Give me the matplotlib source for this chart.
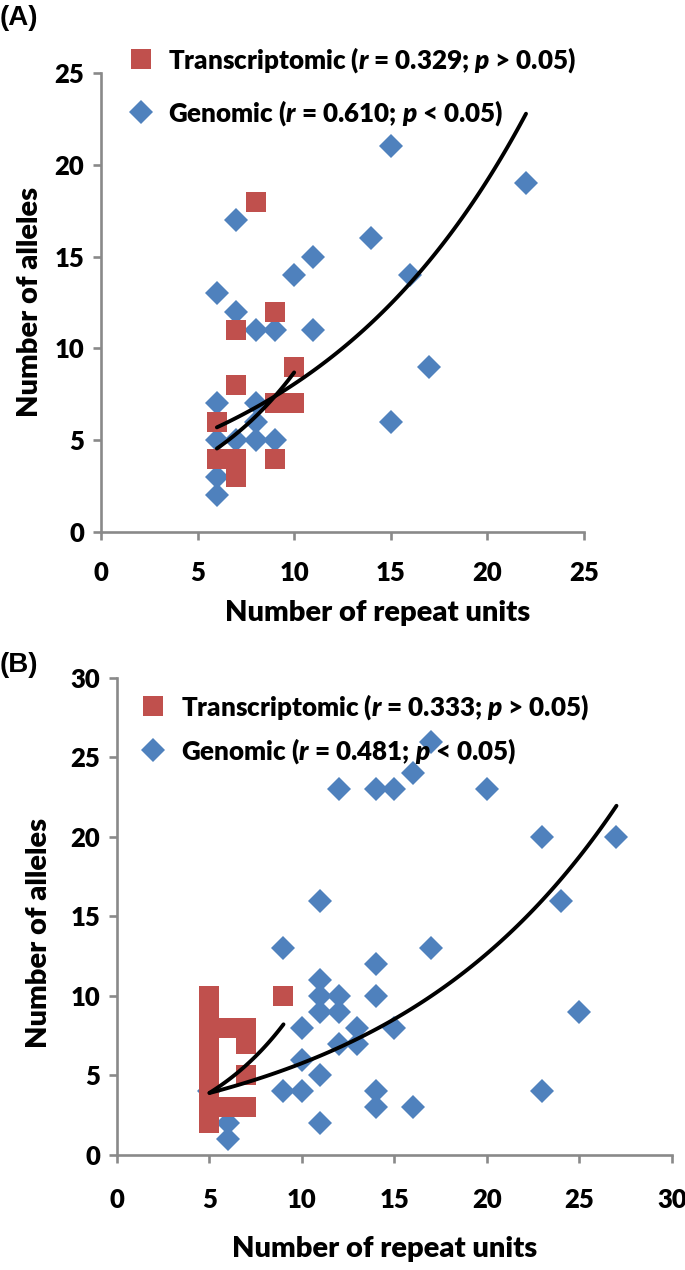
import numpy as np
import matplotlib.pyplot as plt
from matplotlib.lines import Line2D
from matplotlib import font_manager


def has_bold(name):
    for f in font_manager.fontManager.ttflist:
        w = f.weight if isinstance(f.weight, int) else font_manager.weight_dict.get(f.weight, 400)
        if f.name == name and w >= 600:
            return True
    return False


font = next(n for n in ['Lato', 'Open Sans', 'Roboto', 'Noto Sans', 'Liberation Sans', 'DejaVu Sans']
            if has_bold(n))

plt.rcParams['font.family'] = [font, 'DejaVu Sans']
plt.rcParams['font.weight'] = 'heavy'
plt.rcParams['mathtext.fontset'] = 'custom'
plt.rcParams['mathtext.it'] = font + ':italic:heavy'
plt.rcParams['mathtext.rm'] = font + ':heavy'

# panel A
a_trans_x = [8, 9, 7, 10, 7, 9, 10, 6, 6, 7, 7, 9]
a_trans_y = [18, 12, 11, 9, 8, 7, 7, 6, 4, 4, 3, 4]
a_gen_x = [15, 22, 7, 14, 11, 10, 16, 6, 7, 8, 9, 11, 17, 6, 8, 8, 15, 6, 7, 8, 9, 6, 6]
a_gen_y = [21, 19, 17, 16, 15, 14, 14, 13, 12, 11, 11, 11, 9, 7, 7, 6, 6, 5, 5, 5, 5, 3, 2]
# exponential trendlines y = a*exp(b*x)
a_trans_fit = (1.72, 0.162)
a_gen_fit = (3.39, 0.0866)
a_labels = [r'Transcriptomic ($r$ = 0.329; $p$ > 0.05)',
            r'Genomic ($r$ = 0.610; $p$ < 0.05)']

# panel B
b_trans_x = [5, 5, 5, 5, 5, 5, 5, 5, 5, 6, 7, 7, 7, 6, 7, 9]
b_trans_y = [2, 3, 4, 5, 6, 7, 8, 9, 10, 8, 8, 7, 5, 3, 3, 10]
b_gen_x = [17, 16, 12, 14, 15, 20, 23, 27, 11, 24, 9, 17, 14, 11, 11, 12, 14, 11, 12, 25,
           10, 13, 15, 12, 13, 10, 11, 9, 10, 14, 23, 14, 16, 11, 6, 6, 5]
b_gen_y = [26, 24, 23, 23, 23, 23, 20, 20, 16, 16, 13, 13, 12, 11, 10, 10, 10, 9, 9, 9,
           8, 8, 8, 7, 7, 6, 5, 4, 4, 4, 4, 3, 3, 2, 2, 1, 4]
b_trans_fit = (1.54, 0.186)
b_gen_fit = (2.63, 0.0786)
b_labels = [r'Transcriptomic ($r$ = 0.333; $p$ > 0.05)',
            r'Genomic ($r$ = 0.481; $p$ < 0.05)']

red = '#C0504D'
blue = '#4F81BD'
grey = '#898989'

fig = plt.figure(figsize=(6.85, 12.7), dpi=100)
rend = fig.canvas.get_renderer()


def fit_size(s, width_px, base=20):
    # font size that makes s about width_px wide
    t = fig.text(0, 0, s, fontsize=base)
    w = t.get_window_extent(rend).width
    t.remove()
    return base * width_px / w


lab_fs = fit_size('Number of repeat units', 306)
leg_fs = fit_size(a_labels[0], 407)
tick_fs = lab_fs * 0.88
leg_px = leg_fs * 100 / 72

axA = fig.add_axes([0.1474, 0.5811, 0.7051, 0.3614])
axB = fig.add_axes([0.1708, 0.0906, 0.8102, 0.3756])


def trend(ax, xs, fit):
    xx = np.linspace(min(xs), max(xs), 100)
    ax.plot(xx, fit[0] * np.exp(fit[1] * xx), color='black', lw=2.8, zorder=5,
            solid_capstyle='round')


def panel(ax, tx, ty, gx, gy, tfit, gfit, xmax, ymax, labels, leg_pos, pitch, xpad):
    ax.plot(gx, gy, 'D', color=blue, markersize=11.8, markeredgewidth=0, zorder=2)
    ax.plot(tx, ty, 's', color=red, markersize=15, markeredgewidth=0, zorder=3)
    trend(ax, tx, tfit)
    trend(ax, gx, gfit)
    ax.set_xlim(0, xmax)
    ax.set_ylim(0, ymax)
    ax.set_xticks(range(0, xmax + 1, 5))
    ax.set_yticks(range(0, ymax + 1, 5))
    for s in ['top', 'right']:
        ax.spines[s].set_visible(False)
    for s in ['left', 'bottom']:
        ax.spines[s].set_color(grey)
        ax.spines[s].set_linewidth(1.9)
    ax.tick_params(axis='both', color=grey, width=1.9, length=6, labelsize=tick_fs)
    ax.tick_params(axis='x', pad=xpad)
    ax.tick_params(axis='y', pad=6)
    handles = [Line2D([], [], ls='', marker='s', color=red, markersize=15, mew=0),
               Line2D([], [], ls='', marker='D', color=blue, markersize=11.8, mew=0)]
    fig.legend(handles, labels, loc='center left', bbox_to_anchor=leg_pos,
               frameon=False, fontsize=leg_fs, labelspacing=pitch / leg_px - 1.15,
               handletextpad=0.55, borderpad=0, borderaxespad=0, handlelength=1.0)


panel(axA, a_trans_x, a_trans_y, a_gen_x, a_gen_y, a_trans_fit, a_gen_fit,
      25, 25, a_labels, (0.187, 0.932), 53, 15)
panel(axB, b_trans_x, b_trans_y, b_gen_x, b_gen_y, b_trans_fit, b_gen_fit,
      30, 30, b_labels, (0.205, 0.426), 44, 18)

fig.text(0.552, 1 - 613 / 1270, 'Number of repeat units', ha='center', va='center', fontsize=lab_fs)
fig.text(0.044, 1 - 302 / 1270, 'Number of alleles', ha='center', va='center',
         rotation=90, fontsize=lab_fs)
fig.text(0.561, 1 - 1249 / 1270, 'Number of repeat units', ha='center', va='center', fontsize=lab_fs)
fig.text(0.057, 1 - 933 / 1270, 'Number of alleles', ha='center', va='center',
         rotation=90, fontsize=lab_fs)

fig.text(0.0, 1 - 18 / 1270, '(A)', ha='left', va='center', fontsize=20,
         family=['Liberation Sans'], weight='bold')
fig.text(0.0, 1 - 665 / 1270, '(B)', ha='left', va='center', fontsize=20,
         family=['Liberation Sans'], weight='bold')

fig.savefig('out.png', dpi=100)
